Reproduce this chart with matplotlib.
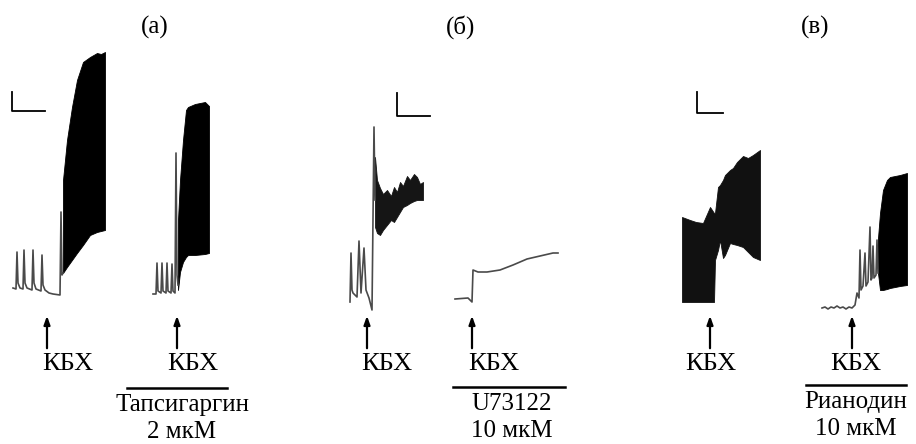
import numpy as np
import matplotlib.pyplot as plt

plt.rcParams['font.family'] = ['Liberation Serif', 'DejaVu Serif']

# (a) control trace: time and signal, spikes then the CCh response
a1_t = [0, 3, 4, 5, 7, 10, 11, 12, 14, 19, 20, 21, 23, 28, 29, 30, 32, 36, 40, 47, 48, 49, 50]
a1_v = [7, 6, 43, 12, 7, 6, 45, 12, 7, 5, 45, 12, 6, 4, 40, 10, 5, 2, 1, 0, 83, 20, 22]
a1_bt = [50, 54, 59, 64, 70, 77, 84, 88, 92]
a1_hi = [115, 155, 188, 215, 233, 238, 242, 241, 243]
a1_lo = [22, 28, 35, 42, 50, 60, 63, 64, 65]

# (a) thapsigargin
a2_t = [0, 3, 4, 5, 8, 9, 10, 13, 14, 15, 18, 19, 20, 22, 23, 24, 25]
a2_v = [1, 1, 32, 4, 2, 32, 4, 2, 32, 4, 2, 31, 4, 2, 142, 20, 10]
a2_bt = [25, 27, 30, 33, 35, 42, 52, 56]
a2_hi = [75, 115, 155, 185, 188, 191, 193, 189]
a2_lo = [5, 23, 33, 38, 40, 40, 41, 42]

# (б) control
b1_t = [0, 1, 2, 3, 7, 9, 11, 14, 16, 19, 22, 24, 25]
b1_v = [-2, 47, 10, 7, 3, 59, 7, 52, 10, 2, -10, 173, 100]
b1_bt = [25, 27, 30, 33, 37, 41, 44, 47, 50, 53, 57, 60, 64, 67, 70, 73]
b1_hi = [143, 120, 112, 106, 110, 104, 113, 108, 118, 114, 124, 120, 126, 123, 116, 118]
b1_lo = [73, 67, 65, 70, 75, 80, 78, 83, 88, 93, 95, 97, 99, 100, 100, 100]

# (б) U73122
b2_t = [0, 13, 17, 18, 23, 32, 45, 58, 72, 85, 98, 103]
b2_v = [0, 1, -3, 29, 27, 27, 29, 34, 40, 43, 46, 46]

# (в) control
c1_bt = [0, 8, 14, 21, 28, 32, 33, 36, 38, 41, 43, 48, 51, 55, 61, 66, 71, 78]
c1_hi = [85, 82, 80, 79, 95, 89, 89, 115, 117, 122, 127, 132, 134, 140, 146, 144, 147, 152]
c1_lo = [0, 0, 0, 0, 0, 0, 42, 52, 62, 44, 47, 59, 58, 57, 55, 50, 45, 42]

# (в) ryanodine
c2_t = [0, 3, 6, 9, 12, 15, 18, 21, 24, 27, 30, 33, 35, 37, 38, 39, 41, 43, 44, 46,
        48, 49, 50, 51, 52, 54, 55, 56]
c2_v = [0, 1, -1, 1, 0, 2, 0, 1, -1, 1, 0, 3, 15, 10, 58, 18, 22, 55, 22, 26,
        81, 28, 30, 62, 30, 33, 68, 35]
c2_bt = [56, 58, 61, 65, 68, 73, 78, 85]
c2_hi = [70, 95, 118, 128, 131, 132, 133, 135]
c2_lo = [35, 18, 18, 19, 20, 21, 22, 23]

titles = ['(а)', '(б)', '(в)']
arrow_x = [47, 177, 367, 472, 710, 852]
label_x = [68, 193, 387, 494, 711, 856]
drugs = [('Тапсигаргин', '2 мкМ'), ('U73122', '10 мкМ'), ('Рианодин', '10 мкМ')]

fig = plt.figure(figsize=(9.16, 4.44), dpi=100)
ax = fig.add_axes([0, 0, 1, 1])
ax.set_xlim(0, 916)
ax.set_ylim(444, 0)
ax.axis('off')

line_col = '#4a4a4a'


def trace(t, v, x0, y0):
    ax.plot(x0 + np.array(t), y0 - np.array(v), color=line_col, lw=1.2)


def block(t, hi, lo, x0, y0, col='black'):
    t = x0 + np.array(t)
    ax.fill_between(t, y0 - np.array(hi), y0 - np.array(lo), color=col, lw=0.6, ec=col)


trace(a1_t, a1_v, 13, 295)
block(a1_bt, a1_hi, a1_lo, 13, 295)
trace(a2_t, a2_v, 153, 295)
block(a2_bt, a2_hi, a2_lo, 153, 295)

trace(b1_t, b1_v, 350, 300)
block(b1_bt, b1_hi, b1_lo, 350, 300, '#151515')
trace(b2_t, b2_v, 455, 299)

block(c1_bt, c1_hi, c1_lo, 682, 302, '#111111')
trace(c2_t, c2_v, 822, 308)
block(c2_bt, c2_hi, c2_lo, 822, 308)

# scale bars
for sx, sy0, sy1, sx1 in [(12, 92, 111, 45), (397, 93, 116, 430), (697, 92, 113, 723)]:
    ax.plot([sx, sx, sx1], [sy0, sy1, sy1], color='black', lw=1.3)

# panel titles
for tx, s in zip([155, 461, 815], titles):
    ax.text(tx, 27, s, ha='center', va='center', fontsize=18)

# arrows and CCh labels
for x, lx in zip(arrow_x, label_x):
    ax.annotate('', xy=(x, 313), xytext=(x, 351),
                arrowprops=dict(arrowstyle='-|>,head_length=0.5,head_width=0.18',
                                color='black', lw=1.6))
    ax.text(lx, 364, 'КБХ', ha='center', va='center', fontsize=19)

# drug bars
for (x0, x1, y), (name, conc), cx in zip([(127, 227, 388), (453, 565, 387), (806, 906, 385)],
                                        drugs, [182, 512, 856]):
    ax.plot([x0, x1], [y, y], color='black', lw=1.8)
    ax.text(cx, y + 17, name, ha='center', va='center', fontsize=18)
    ax.text(cx, y + 44, conc, ha='center', va='center', fontsize=18)

fig.savefig('out.png', dpi=100)
